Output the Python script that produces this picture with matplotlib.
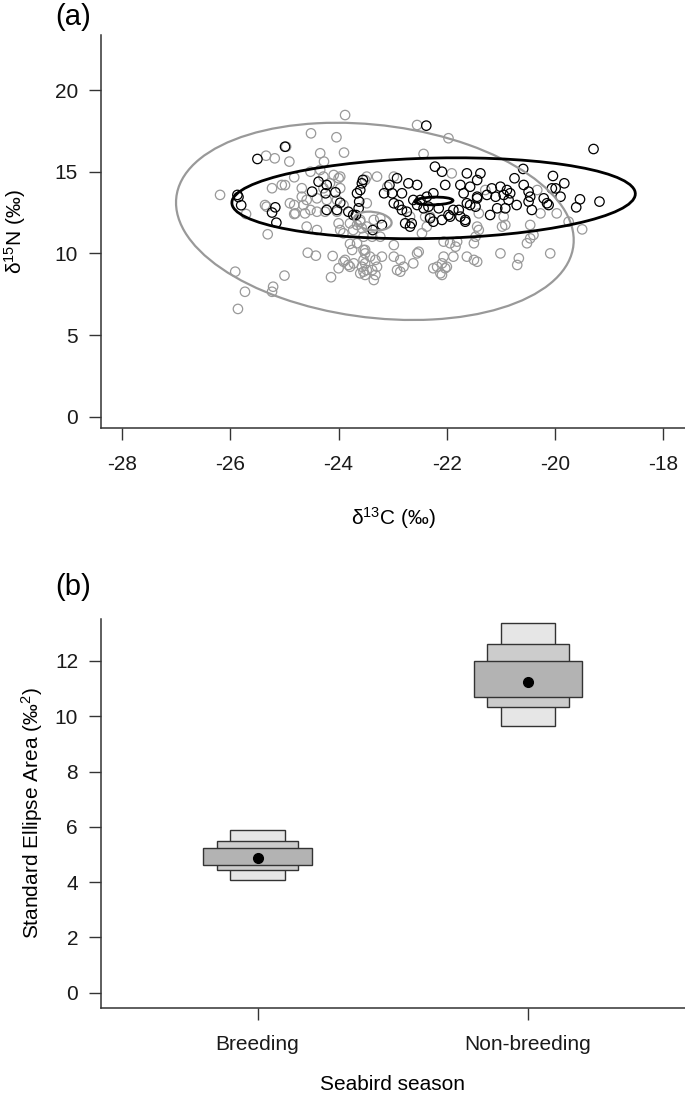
import matplotlib
matplotlib.use('Agg')
import matplotlib.pyplot as plt
from matplotlib.patches import Ellipse, Rectangle
import numpy as np

plt.rcParams['font.family'] = ['Liberation Sans', 'DejaVu Sans']
plt.rcParams['mathtext.default'] = 'regular'
plt.rcParams['axes.unicode_minus'] = False

# ---- panel (a): isotope values ----
grey_d13c = [-23.88, -24.51, -24.04, -24.97, -25.34, -25.18, -24.91, -24.34, -23.90, -24.27,
             -26.19, -25.23, -25.33, -25.31, -25.71, -25.91, -25.73, -25.86, -25.21, -25.23, -25.00,
             -24.57, -24.42, -24.11, -24.14, -23.79,
             -23.91, -23.82, -23.72, -23.54, -23.48, -23.60, -23.51, -23.42,
             -24.59, -24.40,
             -24.82, -24.82, -24.65, -24.52, -24.40, -24.25, -24.03, -23.91, -24.03, -24.22, -24.40, -24.59, -24.68,
             -24.99, -24.82, -24.68, -24.52, -24.34, -24.28, -24.09, -24.00, -24.16, -24.28, -23.97,
             -23.97, -23.79, -23.91, -23.66, -23.57, -23.54, -23.66, -23.75,
             -22.55, -21.97, -22.43, -21.91, -23.29, -23.51, -22.98, -21.29, -20.33, -19.97, -19.75, -19.50,
             -20.09, -20.67, -20.70, -20.52, -20.46, -20.40, -21.01, -21.44, -21.63, -20.92, -20.46, -21.44,
             -21.41, -21.47, -21.81, -21.94, -21.84, -22.06, -22.09, -22.12, -22.25, -22.03,
             -22.55, -22.62, -22.80, -22.86, -22.98, -23.20, -23.29, -23.32, -23.51, -23.54, -23.35, -22.98,
             -23.51, -23.38, -23.23, -23.48, -22.40, -22.31, -22.37, -21.41, -20.95, -20.98, -20.27, -22.68,
             -23.60, -25.05, -24.90, -24.80, -24.62, -25.36, -24.00, -23.73, -23.48, -23.35, -23.23, -23.10,
             -23.48, -23.97, -23.54, -23.57, -23.38, -23.32, -23.51, -22.86, -22.92, -22.52, -22.18, -22.00,
             -22.09, -21.88, -21.50, -23.88, -23.79, -24.00, -23.60, -21.50, -22.06, -22.46]
grey_d15n = [18.47, 17.35, 17.11, 16.53, 15.98, 15.82, 15.62, 16.13, 16.17, 15.62,
             13.58, 13.99, 12.86, 11.17, 12.41, 8.88, 7.65, 6.60, 7.96, 7.65, 8.64,
             10.04, 9.86, 9.84, 8.54, 10.58,
             9.49, 9.29, 9.39, 9.60, 8.98, 8.78, 9.39, 9.80,
             11.64, 11.43,
             12.96, 12.41, 12.96, 12.66, 12.55, 12.55, 12.55, 12.96, 13.27, 13.27, 13.37, 13.27, 13.47,
             14.18, 14.66, 13.99, 15.00, 15.11, 14.70, 14.80, 14.60, 14.29, 13.99, 13.99,
             11.43, 11.84, 11.23, 11.74, 11.54, 11.02, 10.62, 10.21,
             17.86, 17.05, 16.09, 14.90, 14.70, 14.49, 14.70, 13.88, 13.88, 12.45, 11.94, 11.47,
             10.00, 9.70, 9.29, 10.62, 10.92, 11.13, 10.00, 9.49, 9.80, 11.74, 11.74, 11.64,
             11.43, 11.02, 10.72, 10.62, 10.41, 9.80, 9.39, 8.78, 9.09, 9.09,
             10.00, 9.39, 9.18, 8.88, 9.80, 9.80, 9.18, 9.60, 10.00, 8.88, 8.37, 10.51,
             10.21, 11.02, 11.02, 11.64, 12.25, 12.25, 11.64, 12.45, 12.25, 11.64, 12.45, 12.25,
             12.05, 14.19, 13.07, 12.45, 12.45, 12.96, 11.84, 11.43, 13.07, 12.05, 12.15, 14.08,
             14.70, 14.70, 10.21, 9.18, 8.98, 8.68, 8.68, 9.60, 8.98, 10.10, 9.18, 9.18,
             8.68, 9.80, 9.60, 9.60, 9.18, 9.09, 11.94, 10.62, 10.72, 11.23]

black_d13c = [-25.87, -25.85, -25.80, -25.50, -24.99, -25.23, -25.17, -25.15,
              -24.49, -24.37, -24.22, -24.24, -24.06, -23.97, -24.22, -24.03,
              -23.82, -23.73, -23.66, -23.60, -23.57, -23.55, -23.62, -23.63, -23.68,
              -23.37, -23.20,
              -23.16, -23.06, -23.01, -22.98, -22.92, -22.89, -22.83, -22.71, -22.83, -22.74, -22.65,
              -22.68, -22.77, -22.55, -22.62, -22.55, -22.49, -22.43, -22.37, -22.34, -22.25, -22.31,
              -22.25, -22.15, -22.09, -22.22, -22.09, -22.03, -21.94, -21.88, -21.78, -21.75, -21.69,
              -21.66, -21.63, -21.57, -21.47, -21.44, -21.44,
              -22.38, -19.29, -21.38, -20.59, -20.75, -20.04, -19.83,
              -21.26, -21.17, -21.10, -21.01, -20.95, -20.89, -20.86, -20.83, -21.20, -21.07, -20.92,
              -20.71, -20.58, -20.49, -20.46, -20.49, -20.43, -20.21, -20.15, -20.12, -20.06, -19.99,
              -19.90, -19.61, -19.54, -19.18,
              -21.57, -21.44, -21.63, -21.97, -21.75, -21.66]
black_d15n = [13.58, 13.45, 12.95, 15.78, 16.53, 12.50, 12.82, 11.88,
              13.78, 14.39, 14.19, 13.68, 13.74, 13.10, 12.66, 12.66,
              12.55, 12.35, 13.68, 13.88, 14.29, 14.50, 13.17, 12.76, 12.35,
              11.43, 11.74,
              13.68, 14.19, 13.68, 13.07, 14.60, 12.96, 12.66, 14.29, 13.68, 12.55, 11.84,
              11.64, 11.84, 14.19, 13.27, 12.96, 13.27, 12.76, 13.47, 12.86, 13.68, 12.15,
              11.94, 12.76, 12.05, 15.31, 15.00, 14.19, 12.25, 12.66, 12.66, 14.19, 13.68,
              12.05, 14.90, 12.96, 12.86, 13.47, 14.49,
              17.82, 16.39, 14.90, 15.17, 14.60, 14.74, 14.29,
              13.58, 13.98, 13.47, 14.08, 13.58, 13.88, 13.27, 13.68, 12.35, 12.76, 12.76,
              12.96, 14.19, 13.78, 13.47, 13.17, 12.66, 13.37, 13.07, 12.96, 13.98, 13.98,
              13.47, 12.82, 13.31, 13.17,
              14.08, 13.37, 13.07, 12.35, 12.25, 11.94]

# ellipses: centre x, centre y, width, height, angle (data units)
ell_grey = (-23.33, 11.96, 7.14, 12.20, 10.1)
ell_black = (-22.245, 13.375, 7.49, 4.90, 7.4)
ell_grey_mean = (-23.37, 11.98, 0.68, 1.16, 10.1)
ell_black_mean = (-22.24, 13.21, 0.71, 0.47, 7.4)

# ---- panel (b): SEA posterior summaries ----
seasons = ['Breeding', 'Non-breeding']
sea_mode = [4.87, 11.24]
sea95_lo = [4.06, 9.65]
sea95_hi = [5.87, 13.36]
sea75_lo = [4.42, 10.32]
sea75_hi = [5.47, 12.60]
sea50_lo = [4.60, 10.70]
sea50_hi = [5.24, 12.00]

GREY = '#999999'
AXC = '#333333'
FS = 15

fig = plt.figure(figsize=(6.85, 11), dpi=100)
ax1 = fig.add_axes([101/685, 1 - 428/1100, 584/685, 393/1100])
ax2 = fig.add_axes([101/685, 1 - 1007.5/1100, 584/685, 388.5/1100])

for ax in (ax1, ax2):
    ax.spines['top'].set_visible(False)
    ax.spines['right'].set_visible(False)
    for s in ('left', 'bottom'):
        ax.spines[s].set_color(AXC)
        ax.spines[s].set_linewidth(1.1)
    ax.tick_params(direction='out', length=8.5, width=1.0, color=AXC,
                   labelsize=FS, pad=8, labelcolor='#1a1a1a')
    ax.tick_params(axis='x', pad=11)

# panel a
ax1.scatter(grey_d13c, grey_d15n, s=46, facecolors='none', edgecolors=GREY, linewidths=0.9)
ax1.scatter(black_d13c, black_d15n, s=46, facecolors='none', edgecolors='black', linewidths=0.9)
for p, c, lw in [(ell_grey, GREY, 1.6), (ell_grey_mean, GREY, 1.6),
                 (ell_black, 'black', 2.0), (ell_black_mean, 'black', 2.0)]:
    ax1.add_patch(Ellipse((p[0], p[1]), p[2], p[3], angle=p[4], fill=False,
                          edgecolor=c, linewidth=lw))
ax1.set_xlim(-28.39, -17.6)
ax1.set_ylim(-0.69, 23.37)
ax1.set_xticks(np.arange(-28, -17, 2))
ax1.set_yticks(np.arange(0, 21, 5))
ax1.set_xlabel('δ$^{13}$C (‰)', fontsize=FS)
ax1.set_ylabel('δ$^{15}$N (‰)', fontsize=FS)
ax1.xaxis.set_label_coords(0.5, -0.196)
ax1.yaxis.set_label_coords(-0.125, 0.5)

# panel b
xpos = np.arange(1, len(seasons) + 1)
levels = [(sea95_lo, sea95_hi, 0.2, '#e6e6e6'),
          (sea75_lo, sea75_hi, 0.3, '#cccccc'),
          (sea50_lo, sea50_hi, 0.4, '#b3b3b3')]
for lo, hi, w, col in levels:
    for i, xp in enumerate(xpos):
        ax2.add_patch(Rectangle((xp - w/2, lo[i]), w, hi[i] - lo[i],
                                facecolor=col, edgecolor='#333333', linewidth=1.0))
ax2.plot(xpos, sea_mode, 'o', color='black', markersize=7)
ax2.set_xlim(0.4215, 2.58)
ax2.set_ylim(-0.54, 13.52)
ax2.set_xticks(xpos)
ax2.set_xticklabels(seasons)
ax2.set_yticks(np.arange(0, 13, 2))
ax2.set_xlabel('Seabird season', fontsize=FS)
ax2.set_ylabel('Standard Ellipse Area (‰$^{2}$)', fontsize=FS)
ax2.xaxis.set_label_coords(0.5, -0.174)
ax2.yaxis.set_label_coords(-0.096, 0.5)

fig.text(73/685, 1 - 17/1100, '(a)', fontsize=21, ha='center', va='center')
fig.text(73/685, 1 - 587/1100, '(b)', fontsize=21, ha='center', va='center')

fig.savefig('out.png', dpi=100)
